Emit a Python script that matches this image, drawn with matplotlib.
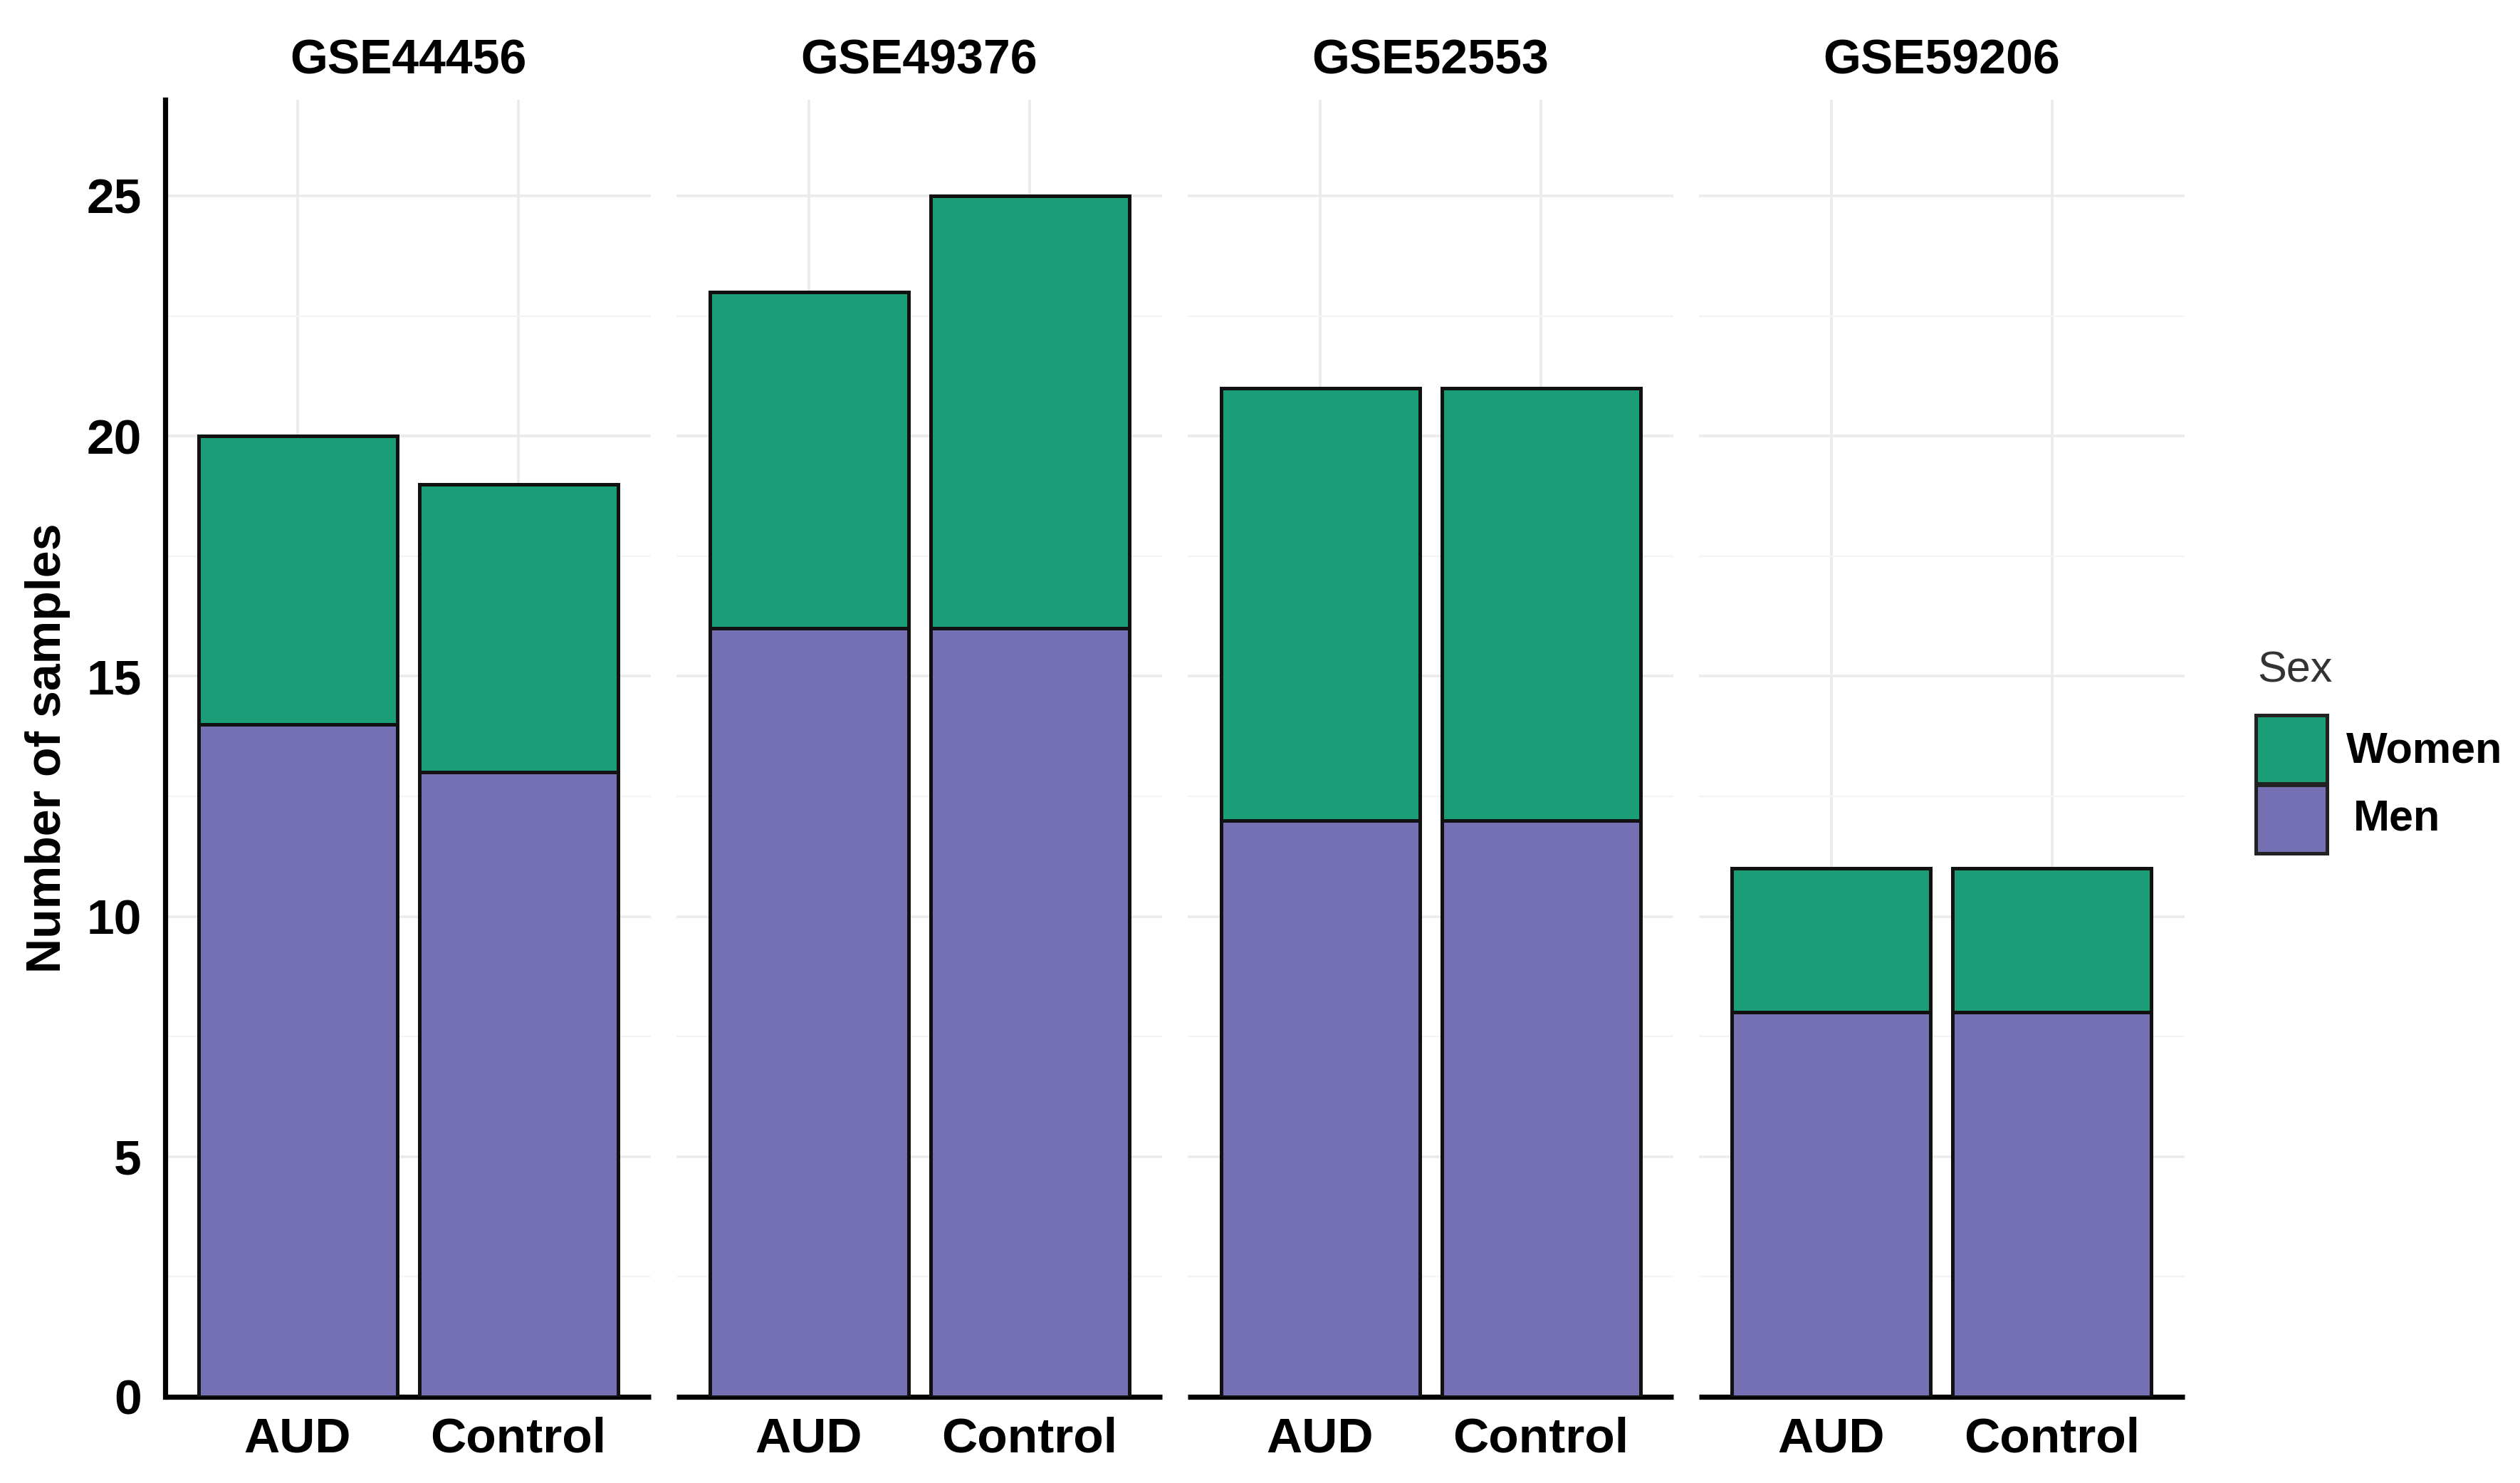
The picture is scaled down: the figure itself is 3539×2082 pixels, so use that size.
import matplotlib.pyplot as plt
from matplotlib.patches import Rectangle
from matplotlib.ticker import MultipleLocator

plt.rcParams["font.family"] = ["Liberation Sans", "DejaVu Sans"]

# datos
datasets = ["GSE44456", "GSE49376", "GSE52553", "GSE59206"]
grupos = ["AUD", "Control"]
men = [[14, 13], [16, 16], [12, 12], [8, 8]]
women = [[6, 6], [7, 9], [9, 9], [3, 3]]

col_women = "#1b9e77"
col_men = "#7570b3"

fig = plt.figure(figsize=(17.695, 10.41), dpi=200)

left0 = 232 / 3539
pw = 682 / 3539
gap = 36 / 3539
bottom = 1 - 1961 / 2082
height = (1961 - 140) / 2082

for i, ds in enumerate(datasets):
    ax = fig.add_axes([left0 + i * (pw + gap), bottom, pw, height])
    x = [1, 2]
    ax.bar(x, men[i], width=0.9, color=col_men, edgecolor="#111111", linewidth=1.8, zorder=3)
    ax.bar(x, women[i], bottom=men[i], width=0.9, color=col_women, edgecolor="#111111",
           linewidth=1.8, zorder=3)
    ax.set_xlim(0.4, 2.6)
    ax.set_ylim(0, 27)
    ax.set_xticks(x)
    ax.set_xticklabels(grupos, fontsize=25, fontweight="bold")
    ax.yaxis.set_major_locator(MultipleLocator(5))
    ax.yaxis.set_minor_locator(MultipleLocator(2.5))
    ax.grid(which="major", color="#ebebeb", linewidth=1.3, zorder=0)
    ax.grid(which="minor", axis="y", color="#f4f4f4", linewidth=0.8, zorder=0)
    ax.tick_params(axis="both", which="both", length=0)
    ax.tick_params(axis="x", pad=10)
    ax.tick_params(axis="y", pad=12, labelsize=25)
    for lab in ax.get_yticklabels():
        lab.set_fontweight("bold")
    for s in ["top", "right"]:
        ax.spines[s].set_visible(False)
    ax.spines["bottom"].set_linewidth(2.6)
    ax.spines["bottom"].set_capstyle("butt")
    if i == 0:
        ax.spines["left"].set_linewidth(2.6)
        ax.set_ylabel("Number of samples", fontsize=24.5, fontweight="bold", labelpad=8)
    else:
        ax.spines["left"].set_visible(False)
        ax.set_yticklabels([])
    ax.set_title(ds, fontsize=24.5, fontweight="bold", pad=13)

# leyenda
W, H = 3539, 2082
fig.text(3170 / W, 1 - 958 / H, "Sex", fontsize=22, color="#333333", va="baseline")
fig.add_artist(Rectangle((3168 / W, 1 - 1100 / H), 100 / W, 96 / H, transform=fig.transFigure,
                         facecolor=col_women, edgecolor="#222222", linewidth=1.8))
fig.add_artist(Rectangle((3168 / W, 1 - 1198 / H), 100 / W, 96 / H, transform=fig.transFigure,
                         facecolor=col_men, edgecolor="#222222", linewidth=1.8))
fig.text(3295 / W, 1 - 1055 / H, "Women", fontsize=22, fontweight="bold", va="center")
fig.text(3305 / W, 1 - 1150 / H, "Men", fontsize=22, fontweight="bold", va="center")

fig.savefig("out.png", dpi=200, facecolor="white")
